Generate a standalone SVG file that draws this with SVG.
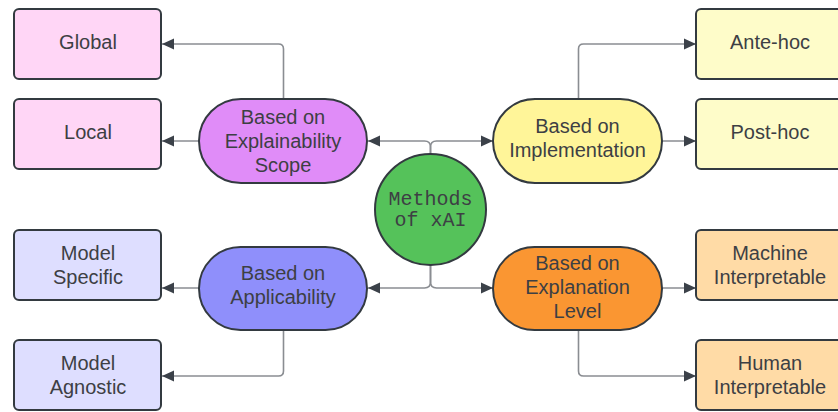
<svg xmlns="http://www.w3.org/2000/svg" width="838" height="412" viewBox="0 0 838 412">
<style>
.node{stroke:#333a40;stroke-width:2}
.t{font-family:"Liberation Sans",Arial,sans-serif;font-size:20px;fill:#3d3f44;text-anchor:middle}
.m{font-family:"Liberation Mono","Courier New",monospace;font-size:20px;fill:#3d3f44;text-anchor:middle}
.c{fill:none;stroke:#8a8d92;stroke-width:1.6}
</style>
<defs>
<marker id="ah" viewBox="0 0 12 12" refX="12" refY="6" markerWidth="12" markerHeight="12" markerUnits="userSpaceOnUse" orient="auto">
<path d="M0,0.5 L12,6 L0,11.5 Z" fill="#3b4149"/>
</marker>
</defs>
<rect width="838" height="412" fill="#ffffff"/>
<g id="connectors">
<path class="c" marker-end="url(#ah)" d="M430.5,154 V147 Q430.5,141 424.5,141 H368"/>
<path class="c" marker-end="url(#ah)" d="M430.5,154 V147 Q430.5,141 436.5,141 H493"/>
<path class="c" marker-end="url(#ah)" d="M430.5,265 V282 Q430.5,288 424.5,288 H368"/>
<path class="c" marker-end="url(#ah)" d="M430.5,265 V282 Q430.5,288 436.5,288 H493"/>
<path class="c" marker-end="url(#ah)" d="M283.5,99 V49 Q283.5,44 278.5,44 H162"/>
<path class="c" marker-end="url(#ah)" d="M199,141 H162"/>
<path class="c" marker-end="url(#ah)" d="M578.5,99 V49 Q578.5,44 583.5,44 H696"/>
<path class="c" marker-end="url(#ah)" d="M662,141 H696"/>
<path class="c" marker-end="url(#ah)" d="M199,288 H162"/>
<path class="c" marker-end="url(#ah)" d="M283.5,330 V371 Q283.5,376 278.5,376 H162"/>
<path class="c" marker-end="url(#ah)" d="M662,288 H696"/>
<path class="c" marker-end="url(#ah)" d="M578.5,330 V371 Q578.5,376 583.5,376 H696"/>
</g>
<g id="global"><rect class="node" x="14" y="9" width="147" height="70" rx="5" fill="#ffd6f6"/><text class="t" x="88" y="49">Global</text></g>
<g id="local"><rect class="node" x="14" y="99" width="147" height="70" rx="5" fill="#ffd6f6"/><text class="t" x="88" y="139">Local</text></g>
<g id="model-specific"><rect class="node" x="14" y="230" width="147" height="70" rx="5" fill="#dedeff"/><text class="t" x="88" y="260">Model</text><text class="t" x="88" y="284">Specific</text></g>
<g id="model-agnostic"><rect class="node" x="14" y="340" width="147" height="70" rx="5" fill="#dedeff"/><text class="t" x="88" y="370">Model</text><text class="t" x="88" y="394">Agnostic</text></g>
<g id="ante-hoc"><rect class="node" x="696" y="9" width="148" height="70" rx="5" fill="#fefcc9"/><text class="t" x="770" y="49">Ante-hoc</text></g>
<g id="post-hoc"><rect class="node" x="696" y="99" width="148" height="70" rx="5" fill="#fefcc9"/><text class="t" x="770" y="139">Post-hoc</text></g>
<g id="machine"><rect class="node" x="696" y="230" width="148" height="70" rx="5" fill="#ffdba6"/><text class="t" x="770" y="260">Machine</text><text class="t" x="770" y="284">Interpretable</text></g>
<g id="human"><rect class="node" x="696" y="340" width="148" height="70" rx="5" fill="#ffdba6"/><text class="t" x="770" y="370">Human</text><text class="t" x="770" y="394">Interpretable</text></g>
<g id="explainability"><rect class="node" x="199" y="99" width="168" height="84" rx="42" fill="#e08cf8"/><text class="t" x="283" y="124">Based on</text><text class="t" x="283" y="148">Explainability</text><text class="t" x="283" y="172">Scope</text></g>
<g id="implementation"><rect class="node" x="493" y="99" width="169" height="84" rx="42" fill="#fff599"/><text class="t" x="577.5" y="133">Based on</text><text class="t" x="577.5" y="157">Implementation</text></g>
<g id="applicability"><rect class="node" x="199" y="247" width="168" height="83" rx="41.5" fill="#8f8ffb"/><text class="t" x="283" y="280">Based on</text><text class="t" x="283" y="304">Applicability</text></g>
<g id="explanation"><rect class="node" x="493" y="247" width="169" height="83" rx="41.5" fill="#fa9632"/><text class="t" x="577.5" y="270">Based on</text><text class="t" x="577.5" y="294">Explanation</text><text class="t" x="577.5" y="318">Level</text></g>
<g id="methods"><circle class="node" cx="430.5" cy="209.5" r="55.5" fill="#55c25a" stroke-width="1.5"/><text class="m" x="430.5" y="205">Methods</text><text class="m" x="430.5" y="226">of xAI</text></g>
</svg>
